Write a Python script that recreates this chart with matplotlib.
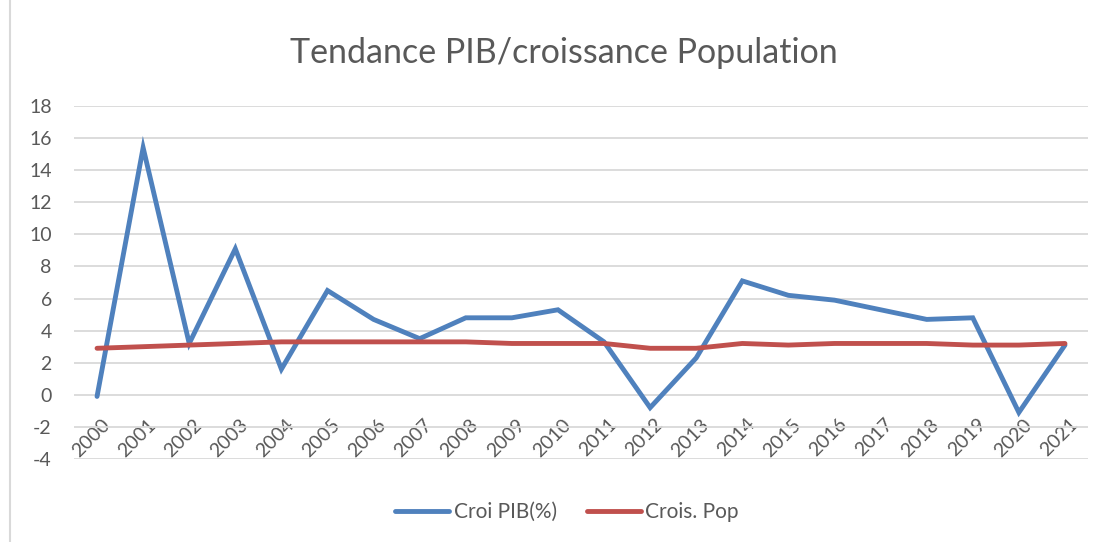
import matplotlib
matplotlib.use("Agg")
from matplotlib import pyplot as plt
from matplotlib.lines import Line2D
from matplotlib.transforms import ScaledTranslation
import numpy as np

years = [str(y) for y in range(2000, 2022)]
croi_pib = [-0.1, 15.4, 3.2, 9.1, 1.6, 6.5, 4.7, 3.5, 4.8, 4.8, 5.3,
            3.3, -0.8, 2.3, 7.1, 6.2, 5.9, 5.3, 4.7, 4.8, -1.1, 3.1]
crois_pop = [2.9, 3.0, 3.1, 3.2, 3.3, 3.3, 3.3, 3.3, 3.3, 3.2, 3.2,
             3.2, 2.9, 2.9, 3.2, 3.1, 3.2, 3.2, 3.2, 3.1, 3.1, 3.2]
yticks = list(range(-4, 19, 2))

BLUE = '#4F81BD'
RED = '#C0504D'
TXT = '#595959'
GRID = '#D9D9D9'
FS = 14

plt.rcParams['font.family'] = ['Lato', 'DejaVu Sans']

fig = plt.figure(figsize=(11.04, 5.42), dpi=100)
ax = fig.add_axes([74 / 1104, 1 - 459 / 542, (1088 - 74) / 1104, (459 - 106) / 542])

x = np.arange(len(years))
ax.plot(x, croi_pib, color=BLUE, lw=3.5, solid_joinstyle='miter', solid_capstyle='round', zorder=3)
ax.plot(x, crois_pop, color=RED, lw=3.5, solid_capstyle='round', zorder=3)

ax.set_xlim(-0.5, len(years) - 0.5)
ax.set_ylim(-4, 18)
ax.set_yticks(yticks)
ax.set_yticklabels([str(v) for v in yticks])
ax.grid(axis='y', color=GRID, lw=1.3)
ax.set_axisbelow(True)
for s in ['top', 'right', 'left']:
    ax.spines[s].set_visible(False)
ax.spines['bottom'].set_position(('data', 0))
ax.spines['bottom'].set_visible(False)

ax.set_xticks(x)
ax.set_xticklabels(years, rotation=45, ha='right', va='top', rotation_mode='anchor')
ax.tick_params(axis='x', length=0, pad=15, labelsize=FS, labelcolor=TXT)
ax.tick_params(axis='y', length=0, pad=16, labelsize=FS, labelcolor=TXT)
shift = ScaledTranslation(4 / 100, 0, fig.dpi_scale_trans)
for lab in ax.get_xticklabels():
    lab.set_transform(lab.get_transform() + shift)

fig.text(564 / 1104, 1 - 63 / 542, 'Tendance PIB/croissance Population',
         ha='center', va='baseline', fontsize=24.5, color=TXT)

handles = [Line2D([], [], color=BLUE, lw=3.5, solid_capstyle='round'),
           Line2D([], [], color=RED, lw=3.5, solid_capstyle='round')]
fig.legend(handles, ['Croi PIB(%)', 'Crois. Pop'], loc='center',
           bbox_to_anchor=(567 / 1104, 1 - 512 / 542), ncol=2, frameon=False,
           fontsize=15, labelcolor=TXT, handlelength=2.6, handletextpad=0.2,
           columnspacing=1.45)

# chart area border (left edge visible)
fig.add_artist(Line2D([10 / 1104, 10 / 1104], [0, 1], color=GRID, lw=1.5))

fig.savefig('out.png', dpi=100)
